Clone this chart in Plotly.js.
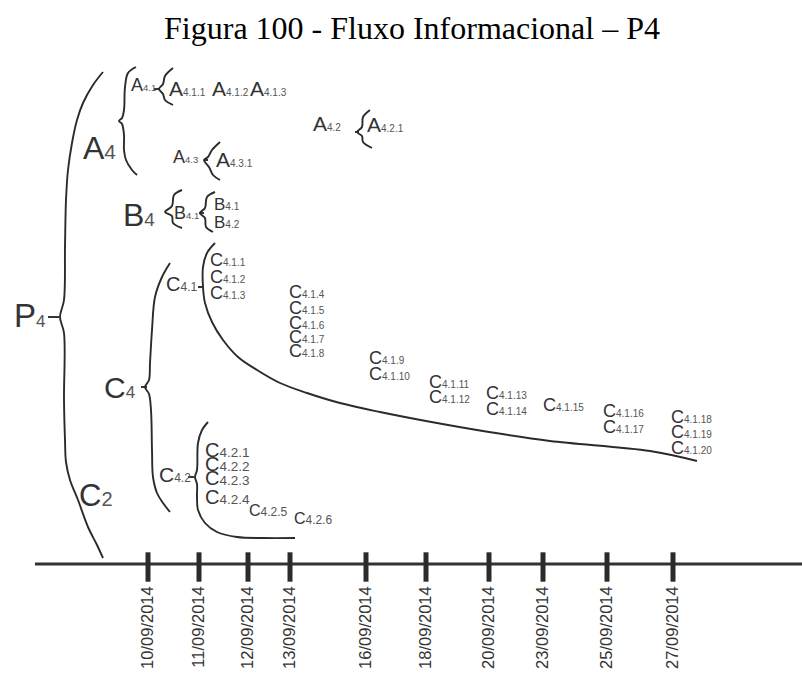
<!DOCTYPE html>
<html>
<head>
<meta charset="utf-8">
<script src="https://cdn.plot.ly/plotly-3.0.1.min.js"></script>
<style>html,body{margin:0;padding:0;background:#fff;}</style>
</head>
<body>
<div id="chart" style="width:802px;height:675px;"></div>
<script>
// ---- timeline (dates at their positions along the diagram's time axis) ----
var dates   = ["10/09/2014","11/09/2014","12/09/2014","13/09/2014","16/09/2014","18/09/2014","20/09/2014","23/09/2014","25/09/2014","27/09/2014"];
var datePos = [148, 199, 248, 290, 366, 426, 489, 543, 607, 673];
var timelineStart = 35, timelineEnd = 802, timelineY = 564;

// ---- nodes (letter, index, diagram position, tier) ----
var nodeMain = ["P","A","B","C","C",
  "A","A","A","A","A","A","A","A",
  "B","B","B",
  "C","C","C","C","C","C","C","C","C","C","C","C","C","C","C","C","C","C","C","C","C",
  "C","C","C","C","C","C","C"];
var nodeSub = ["4","4","4","4","2",
  "4.1","4.1.1","4.1.2","4.1.3","4.3","4.3.1","4.2","4.2.1",
  "4.1","4.1","4.2",
  "4.1","4.1.1","4.1.2","4.1.3","4.1.4","4.1.5","4.1.6","4.1.7","4.1.8","4.1.9","4.1.10","4.1.11","4.1.12","4.1.13","4.1.14","4.1.15","4.1.16","4.1.17","4.1.18","4.1.19","4.1.20",
  "4.2","4.2.1","4.2.2","4.2.3","4.2.4","4.2.5","4.2.6"];
var nodeX = [13,82,122,103,78,
  130,168,211,249,172,215,312,366,
  173,213,213,
  165,209,209,209,288,288,288,288,288,368,368,428,428,485,485,542,602,602,670,670,670,
  158,204,204,204,204,248,293];
var nodeY = [315,148,215,387,495,
  85,88,88,88,157,159,123,124,
  213,204,222,
  284,260,277,293,292,308,323,337,351,358,374,382,397,393,409,405,411,427,417,432,448,
  474,450,464,478,497,510,518];
var nodeTier = ["P","A4","B4","C4","C2",
  "t1","t2","t2","t2","t1","t2","t2","t2",
  "t3","t4","t4",
  "t5","t6","t6","t6","t6","t6","t6","t6","t6","t6","t6","t6","t6","t6","t6","t6","t6","t6","t6","t6","t6",
  "t7","t8","t8","t8","t8","t9","t9"];

// ---- brace / link curves ----
var curveP4x  = [103,93,83,77,72,68,66,65,64,60,64,64,65,66,70,78,88,97,103];
var curveP4y  = [72,85,103,120,143,170,200,247,300,317,333,400,440,462,480,500,527,545,558];
var curveA4x  = [136,128,125,124,122,119,122,124,124,126,132,137];
var curveA4y  = [67,73,87,110,118,121,124,135,150,160,170,175];
var curveA41x = [173,165,163,159,163,165,173];
var curveA41y = [68,76,84,89,94,100,105];
var curveA43x = [220,212,208,204,209,213,220];
var curveA43y = [142,150,157,160,167,175,180];
var curveA42x = [370,363,362,357,362,363,372];
var curveA42y = [110,117,127,132,136,142,148];
var curveB4x  = [182,174,172,165,172,173,182];
var curveB4y  = [190,195,206,212,216,223,228];
var curveB41x = [215,207,205,200,205,206,213];
var curveB41y = [192,197,208,213,218,227,232];
var curveC4x  = [170,162,155,152,150,149,145,149,151,152,153,157,163,170];
var curveC4y  = [263,277,297,330,363,380,387,394,410,450,477,493,503,512];
var curveC41x = [215,207,203,203,205,212,223,238,257,280,307,340,380,426,489,550,650,697];
var curveC41y = [243,253,267,287,303,322,340,357,370,383,393,403,412,421,432,441,451,461];
var curveC42x = [208,202,198,197,195,197,197,198,205,217,237,263,295];
var curveC42y = [422,430,443,470,477,484,497,510,523,532,537,538,538];
// short connector dashes: [x0, x1, y]
var dashX0 = [48,154,204,355,199,141,198,188];
var dashX1 = [59,160,208,359,204,147,203,194];
var dashY  = [317,89,160,132,213,387,287,477];

// ---- styles ----
var tierStyle = {
  P:[33,17], A4:[32,21], B4:[32,19], C4:[30,17], C2:[31,20],
  t1:[18,9.5], t2:[21,10], t3:[18,9.5], t4:[17,10], t5:[20,12],
  t6:[18,10], t7:[21,12], t8:[20,13.5], t9:[16,12]
};
var ink = "#2b2b2b", mainColor = "#333", subColor = "#555";
var sans = "Liberation Sans, Arial, sans-serif";

var curves = [
  [curveP4x,curveP4y],[curveA4x,curveA4y],[curveA41x,curveA41y],[curveA43x,curveA43y],
  [curveA42x,curveA42y],[curveB4x,curveB4y],[curveB41x,curveB41y],[curveC4x,curveC4y],
  [curveC41x,curveC41y],[curveC42x,curveC42y]
];
var traces = curves.map(function(c){
  return {x:c[0], y:c[1], mode:"lines", type:"scatter",
    line:{color:ink, width:1.9, shape:"spline", smoothing:1}, hoverinfo:"skip"};
});
var dx = [], dy = [];
for (var i=0;i<dashX0.length;i++){ dx.push(dashX0[i],dashX1[i],null); dy.push(dashY[i],dashY[i],null); }
traces.push({x:dx, y:dy, mode:"lines", type:"scatter", line:{color:ink,width:1.9}, hoverinfo:"skip"});
// timeline
traces.push({x:[timelineStart,timelineEnd], y:[timelineY,timelineY], mode:"lines", type:"scatter",
  line:{color:"#333",width:3}, hoverinfo:"skip"});
traces.push({x:datePos, y:datePos.map(function(){return timelineY+3;}), mode:"markers", type:"scatter",
  marker:{symbol:"line-ns", size:21, line:{color:"#2b2b2b", width:5}}, cliponaxis:false, hoverinfo:"skip"});

var annotations = nodeMain.map(function(m,i){
  var s = tierStyle[nodeTier[i]];
  return {x:nodeX[i], y:nodeY[i], xref:"x", yref:"y", xanchor:"left", yanchor:"middle",
    showarrow:false, borderpad:0,
    font:{family:sans, size:s[0], color:mainColor},
    text:'<span style="font-size:'+s[0]+'px">'+m+'</span><span style="font-size:'+s[1]+'px;color:'+subColor+'">'+nodeSub[i]+'</span>'};
});

var layout = {
  width:802, height:675,
  margin:{l:0,r:0,t:0,b:95},
  paper_bgcolor:"#fff", plot_bgcolor:"#fff",
  showlegend:false, hovermode:false,
  title:{text:"Figura 100 - Fluxo Informacional – P4", font:{family:"Liberation Serif, Times New Roman, serif", size:32, color:"#000"},
    xref:"container", yref:"container", x:412/802, y:1-28/675, xanchor:"center", yanchor:"middle"},
  xaxis:{range:[0,802], showgrid:false, zeroline:false, showline:false, ticks:"",
    tickmode:"array", tickvals:datePos, ticktext:dates, tickangle:-90,
    tickfont:{family:sans, size:16.5, color:"#333"}, ticklabelstandoff:2, fixedrange:true},
  yaxis:{range:[580,0], showgrid:false, zeroline:false, showline:false, showticklabels:false, ticks:"", fixedrange:true},
  annotations:annotations
};
Plotly.newPlot("chart", traces, layout, {staticPlot:true, displayModeBar:false});
</script>
</body>
</html>
